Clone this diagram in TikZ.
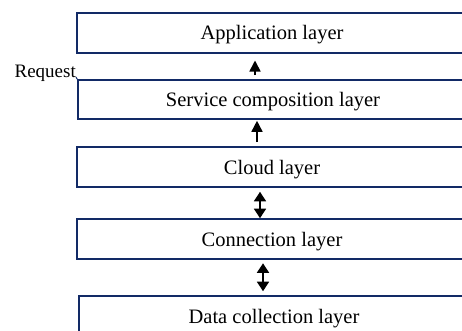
\documentclass[tikz,border=0pt]{standalone}
\usepackage{fontspec}
\setmainfont{Liberation Serif}
\usetikzlibrary{arrows.meta}
\definecolor{navy}{RGB}{18,42,102}
\begin{document}
\begin{tikzpicture}[x=1pt,y=-1pt,
  layerbox/.style={draw=navy, line width=1.6pt, minimum width=390pt, minimum height=40pt, inner sep=0pt, text depth=0pt, font=\fontsize{20.5}{24}\selectfont},
  uparrow/.style={-{Triangle[width=11pt,length=11pt]}, line width=1.6pt, black},
  dblarrow/.style={{Triangle[width=12pt,length=9.5pt]}-{Triangle[width=12pt,length=9.5pt]}, line width=1.6pt, black}]
\useasboundingbox (0,0) rectangle (462,330);
\clip (0,0) rectangle (462,330);
\node[layerbox] (app) at (272,32.7) {Application layer};
\node[layerbox, minimum height=39pt] (svc) at (273,99.5) {Service composition layer};
\node[layerbox] (cloud) at (272,167) {Cloud layer};
\node[layerbox] (conn) at (272,239) {Connection layer};
\node[layerbox] (data) at (274,316) {Data collection layer};
\node[font=\fontsize{19}{22}\selectfont, anchor=base east, inner sep=0pt] (req) at (76,77) {Request};
\draw[navy, line width=1pt] (req.base east) -- (svc.north west);
\coordinate (c1) at (255,0);
\coordinate (c2) at (257,0);
\coordinate (c3) at (260,0);
\coordinate (c4) at (263,0);
\draw[uparrow, shorten <=4pt, shorten >=7pt] (c1 |- svc.north) -- (c1 |- app.south);
\draw[uparrow, shorten <=4pt, shorten >=1pt] (c2 |- cloud.north) -- (c2 |- svc.south);
\draw[dblarrow, shorten <=4pt] (c3 |- cloud.south) -- (c3 |- conn.north);
\draw[dblarrow, shorten <=3.5pt, shorten >=4pt] (c4 |- conn.south) -- (c4 |- data.north);
\end{tikzpicture}
\end{document}
